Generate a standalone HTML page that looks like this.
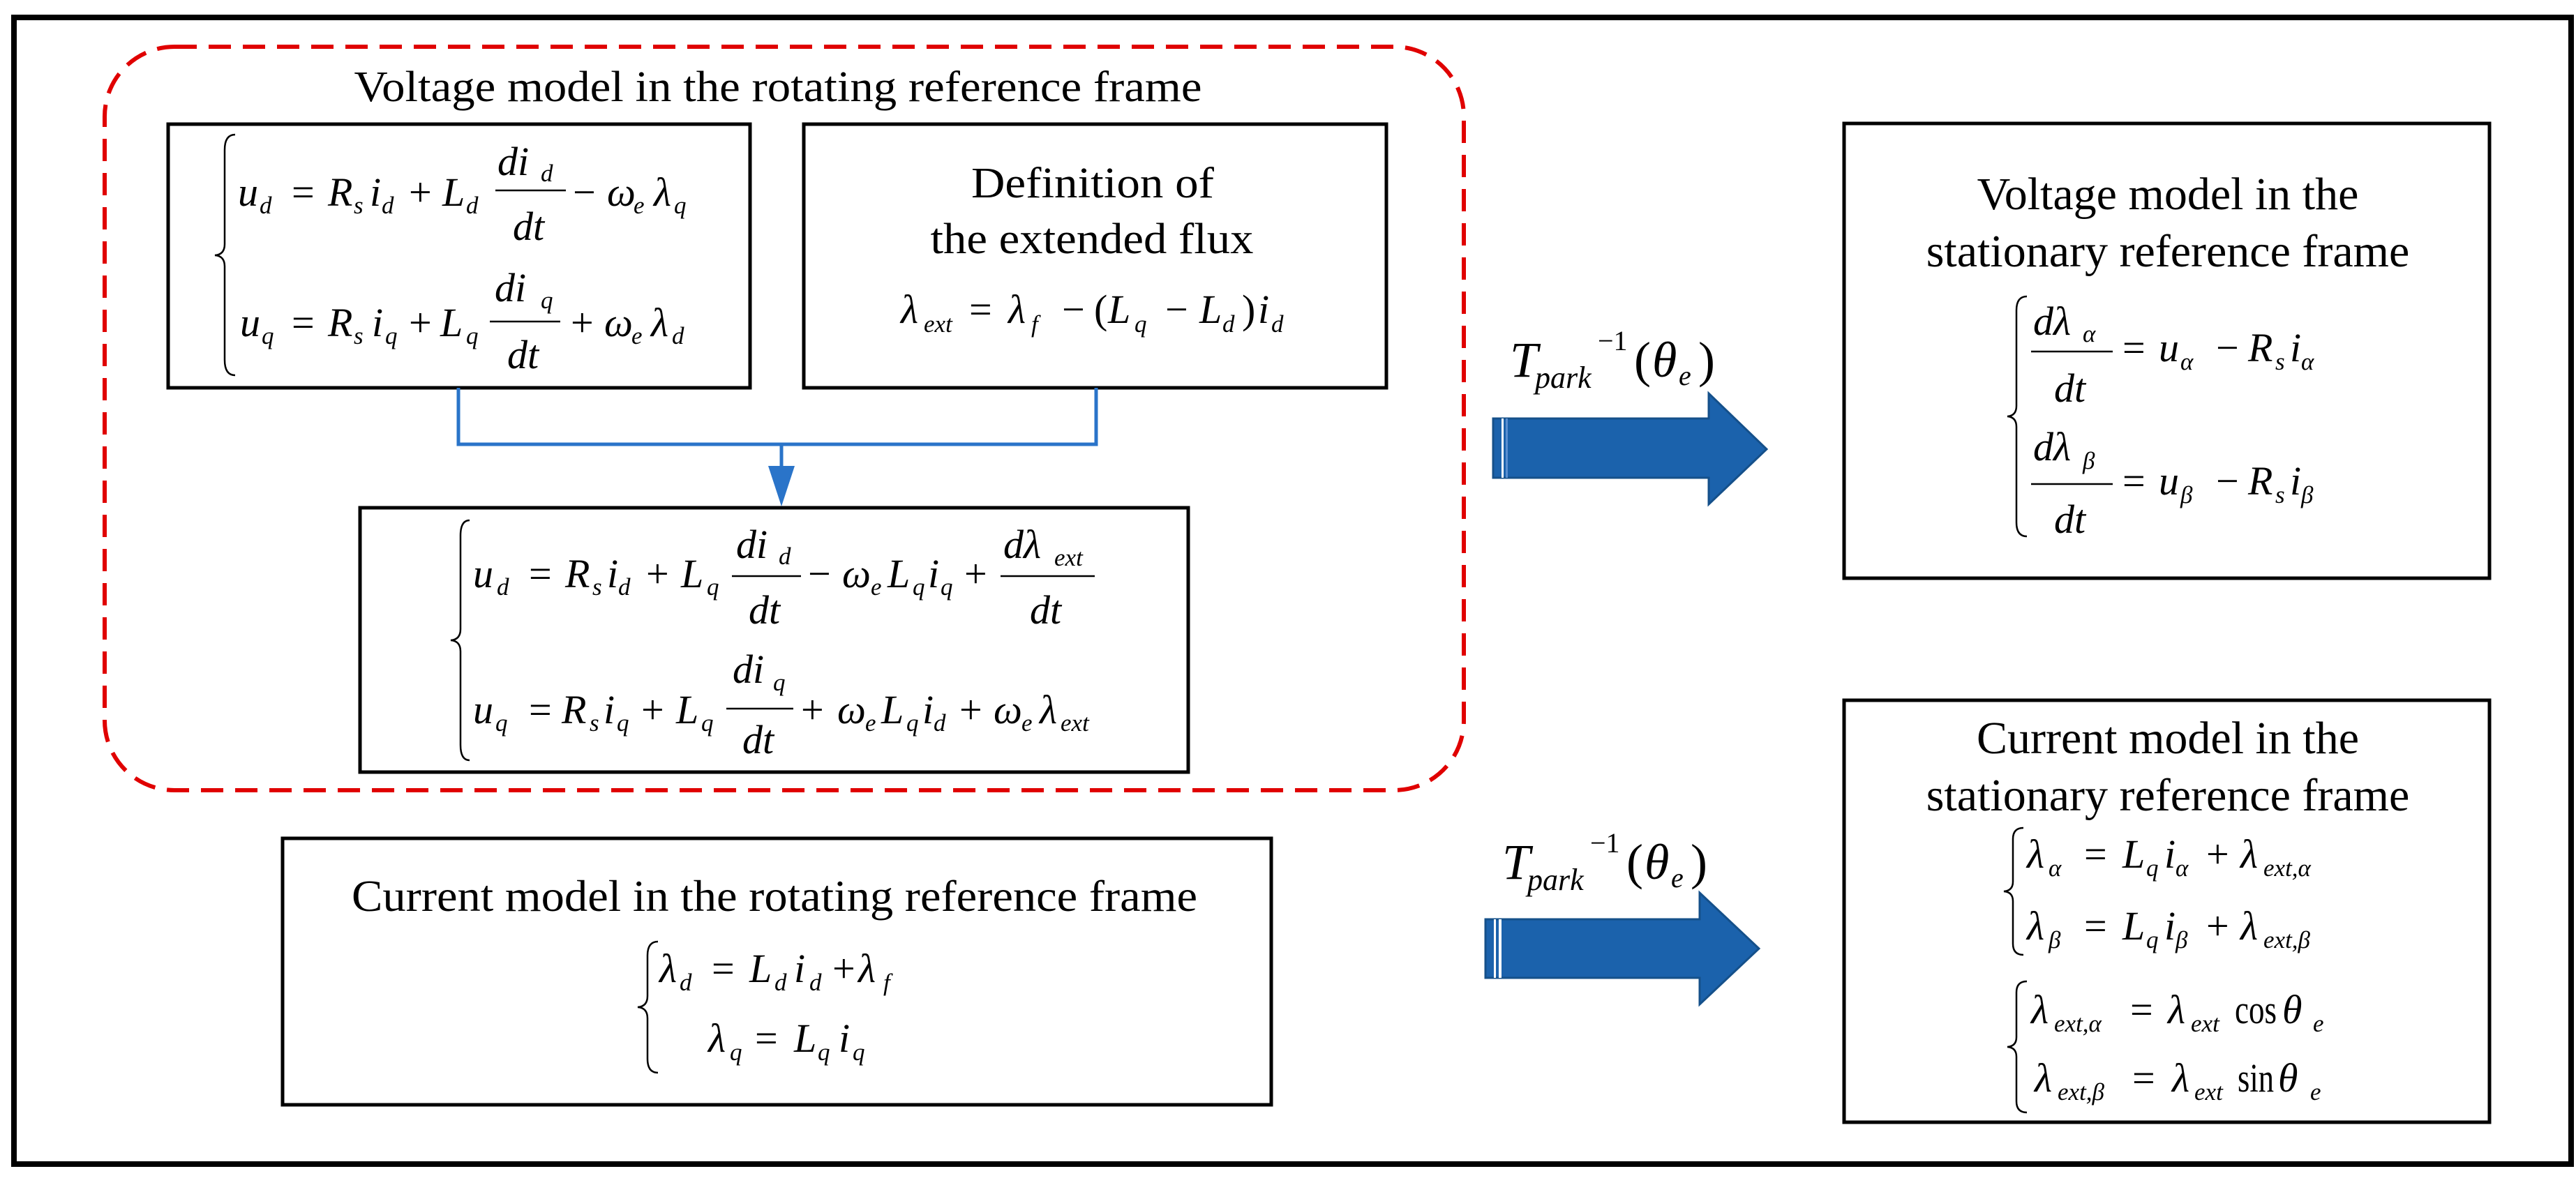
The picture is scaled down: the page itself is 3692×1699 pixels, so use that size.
<!DOCTYPE html>
<html><head><meta charset="utf-8"><style>
html,body{margin:0;padding:0;background:#fff}
svg{display:block}
text{font-family:"Liberation Serif","DejaVu Serif",serif;fill:#000}
.i{font-style:italic;font-family:"Liberation Serif","DejaVu Serif",serif}
.m{font-size:58px}
.s{font-size:35px;font-style:italic}
.t{font-size:62px}
</style></head><body>
<svg width="3692" height="1699" viewBox="0 0 3692 1699" xmlns="http://www.w3.org/2000/svg">
<rect x="20" y="25" width="3665" height="1644" fill="none" stroke="#000" stroke-width="8"/>
<rect x="150" y="67" width="1948" height="1066" rx="100" ry="100" fill="none" stroke="#e00000" stroke-width="6" stroke-dasharray="32 17"/>
<text class="t" x="1115" y="145" text-anchor="middle" textLength="1215" lengthAdjust="spacingAndGlyphs">Voltage model in the rotating reference frame</text>

<g fill="none" stroke="#000" stroke-width="5">
<rect x="241" y="178" width="834" height="378"/>
<rect x="1152" y="178" width="835" height="378"/>
<rect x="516" y="728" width="1187" height="379"/>
<rect x="405" y="1202" width="1417" height="382"/>
<rect x="2643" y="177" width="925" height="652"/>
<rect x="2643" y="1004" width="925" height="605"/>
</g>
<g fill="none" stroke="#000" stroke-width="2.5">
<path d="M337 193 Q322 193 322 215 L322 350 Q322 365 308 366 Q322 367 322 382 L322 516 Q322 538 337 538"/>
<path d="M673 746 Q660 746 660 768 L660 902 Q660 917 646 918 Q660 919 660 934 L660 1068 Q660 1090 673 1090"/>
<path d="M943 1350 Q928 1350 928 1370 L928 1428 Q928 1443 914 1444 Q928 1445 928 1460 L928 1518 Q928 1538 943 1538"/>
<path d="M2905 425 Q2890 425 2890 445 L2890 582 Q2890 596 2877 597 Q2890 598 2890 612 L2890 749 Q2890 769 2905 769"/>
<path d="M2900 1187 Q2885 1187 2885 1203 L2885 1264 Q2885 1277 2872 1278 Q2885 1279 2885 1292 L2885 1353 Q2885 1369 2900 1369"/>
<path d="M2905 1407 Q2890 1407 2890 1423 L2890 1487 Q2890 1500 2877 1501 Q2890 1502 2890 1515 L2890 1579 Q2890 1595 2905 1595"/>
</g>
<g stroke="#000" stroke-width="2.5">
<line x1="710" y1="273" x2="811" y2="273"/>
<line x1="702" y1="461" x2="803" y2="461"/>
<line x1="1049" y1="826" x2="1148" y2="826"/>
<line x1="1434" y1="826" x2="1569" y2="826"/>
<line x1="1041" y1="1016" x2="1137" y2="1016"/>
<line x1="2911" y1="504" x2="3028" y2="504"/>
<line x1="2911" y1="694" x2="3028" y2="694"/>
</g>

<g class="m">
<text class="i" x="341" y="295">u</text><text class="s" x="372" y="306">d</text>
<text x="418" y="295">=</text>
<text class="i" x="470" y="295">R</text><text class="s" x="507" y="306">s</text>
<text class="i" x="530" y="295">i</text><text class="s" x="547" y="306">d</text>
<text x="586" y="295">+</text>
<text class="i" x="634" y="295">L</text><text class="s" x="668" y="306">d</text>
<text class="i" x="713" y="251">di</text><text class="s" x="775" y="260">d</text>
<text class="i" x="735" y="344">dt</text>
<text x="821" y="295">−</text>
<text class="i" x="870" y="295">ω</text><text class="s" x="908" y="306">e</text>
<text class="i" x="937" y="295">λ</text><text class="s" x="966" y="306">q</text>

<text class="i" x="344" y="482">u</text><text class="s" x="375" y="493">q</text>
<text x="418" y="482">=</text>
<text class="i" x="470" y="482">R</text><text class="s" x="507" y="493">s</text>
<text class="i" x="533" y="482">i</text><text class="s" x="552" y="493">q</text>
<text x="586" y="482">+</text>
<text class="i" x="631" y="482">L</text><text class="s" x="668" y="493">q</text>
<text class="i" x="709" y="432">di</text><text class="s" x="775" y="442">q</text>
<text class="i" x="727" y="528">dt</text>
<text x="818" y="482">+</text>
<text class="i" x="866" y="482">ω</text><text class="s" x="905" y="493">e</text>
<text class="i" x="933" y="482">λ</text><text class="s" x="963" y="493">d</text>
</g>

<text class="t" x="1566" y="283" text-anchor="middle" textLength="348" lengthAdjust="spacingAndGlyphs">Definition of</text>
<text class="t" x="1565" y="363" text-anchor="middle" textLength="463" lengthAdjust="spacingAndGlyphs">the extended flux</text>
<g class="m">
<text class="i" x="1291" y="463">λ</text><text class="s" x="1324" y="476">ext</text>
<text x="1389" y="463">=</text>
<text class="i" x="1445" y="463">λ</text><text class="s" x="1478" y="476">f</text>
<text x="1522" y="463">−</text>
<text x="1568" y="463">(</text>
<text class="i" x="1588" y="463">L</text><text class="s" x="1626" y="476">q</text>
<text x="1670" y="463">−</text>
<text class="i" x="1719" y="463">L</text><text class="s" x="1752" y="476">d</text>
<text x="1780" y="463">)</text>
<text class="i" x="1803" y="463">i</text><text class="s" x="1822" y="476">d</text>
</g>

<g stroke="#2a74c9" stroke-width="5" fill="none">
<polyline points="657,556 657,637 1571,637 1571,556"/>
<line x1="1120" y1="637" x2="1120" y2="672"/>
</g>
<polygon points="1101,668 1139,668 1120,726" fill="#2a74c9"/>

<g class="m">
<text class="i" x="678" y="842">u</text><text class="s" x="712" y="853">d</text>
<text x="758" y="842">=</text>
<text class="i" x="810" y="842">R</text><text class="s" x="849" y="853">s</text>
<text class="i" x="870" y="842">i</text><text class="s" x="886" y="853">d</text>
<text x="926" y="842">+</text>
<text class="i" x="976" y="842">L</text><text class="s" x="1013" y="853">q</text>
<text class="i" x="1055" y="800">di</text><text class="s" x="1116" y="809">d</text>
<text class="i" x="1073" y="894">dt</text>
<text x="1158" y="842">−</text>
<text class="i" x="1207" y="842">ω</text><text class="s" x="1248" y="853">e</text>
<text class="i" x="1272" y="842">L</text><text class="s" x="1308" y="853">q</text>
<text class="i" x="1330" y="842">i</text><text class="s" x="1348" y="853">q</text>
<text x="1382" y="842">+</text>
<text class="i" x="1438" y="800">dλ</text><text class="s" x="1511" y="811">ext</text>
<text class="i" x="1476" y="894">dt</text>

<text class="i" x="678" y="1037">u</text><text class="s" x="710" y="1048">q</text>
<text x="758" y="1037">=</text>
<text class="i" x="805" y="1037">R</text><text class="s" x="845" y="1048">s</text>
<text class="i" x="865" y="1037">i</text><text class="s" x="884" y="1048">q</text>
<text x="919" y="1037">+</text>
<text class="i" x="969" y="1037">L</text><text class="s" x="1005" y="1048">q</text>
<text class="i" x="1050" y="979">di</text><text class="s" x="1108" y="990">q</text>
<text class="i" x="1064" y="1080">dt</text>
<text x="1148" y="1037">+</text>
<text class="i" x="1200" y="1037">ω</text><text class="s" x="1240" y="1048">e</text>
<text class="i" x="1263" y="1037">L</text><text class="s" x="1299" y="1048">q</text>
<text class="i" x="1322" y="1037">i</text><text class="s" x="1338" y="1048">d</text>
<text x="1375" y="1037">+</text>
<text class="i" x="1424" y="1037">ω</text><text class="s" x="1464" y="1048">e</text>
<text class="i" x="1490" y="1037">λ</text><text class="s" x="1520" y="1048">ext</text>
</g>

<text x="1110" y="1306" text-anchor="middle" style="font-size:64px" textLength="1212" lengthAdjust="spacingAndGlyphs">Current model in the rotating reference frame</text>
<g class="m">
<text class="i" x="945" y="1408">λ</text><text class="s" x="974" y="1420">d</text>
<text x="1020" y="1408">=</text>
<text class="i" x="1074" y="1408">L</text><text class="s" x="1110" y="1420">d</text>
<text class="i" x="1138" y="1408">i</text><text class="s" x="1160" y="1420">d</text>
<text x="1193" y="1408">+</text>
<text class="i" x="1230" y="1408">λ</text><text class="s" x="1266" y="1420">f</text>

<text class="i" x="1015" y="1508">λ</text><text class="s" x="1046" y="1520">q</text>
<text x="1082" y="1508">=</text>
<text class="i" x="1138" y="1508">L</text><text class="s" x="1172" y="1520">q</text>
<text class="i" x="1202" y="1508">i</text><text class="s" x="1222" y="1520">q</text>
</g>

<g>
<polygon points="2140,600 2449,600 2449,564 2532,644 2449,723 2449,685 2140,685" fill="#1b62ac" stroke="#15508a" stroke-width="3"/>
<rect x="2152" y="600" width="3" height="85" fill="#fff"/>
<rect x="2158" y="600" width="3" height="85" fill="#5a8fd0"/>
<polygon points="2129,1318 2436,1318 2436,1280 2521,1360 2436,1440 2436,1402 2129,1402" fill="#1b62ac" stroke="#15508a" stroke-width="3"/>
<rect x="2141" y="1318" width="3" height="84" fill="#fff"/>
<rect x="2148" y="1318" width="4" height="84" fill="#fff"/>
</g>
<g style="font-size:72px">
<text class="i" x="2164" y="540">T</text><text class="i" x="2200" y="556" style="font-size:44px">park</text>
<text x="2290" y="502" style="font-size:40px">−1</text>
<text x="2342" y="540">(</text><text class="i" x="2368" y="540">θ</text><text class="i" x="2406" y="552" style="font-size:40px">e</text><text x="2434" y="540">)</text>
<text class="i" x="2153" y="1260">T</text><text class="i" x="2189" y="1276" style="font-size:44px">park</text>
<text x="2279" y="1222" style="font-size:40px">−1</text>
<text x="2331" y="1260">(</text><text class="i" x="2357" y="1260">θ</text><text class="i" x="2395" y="1272" style="font-size:40px">e</text><text x="2423" y="1260">)</text>
</g>

<text x="3107" y="300" text-anchor="middle" style="font-size:66px">Voltage model in the</text>
<text x="3107" y="382" text-anchor="middle" style="font-size:66px">stationary reference frame</text>
<g class="m">
<text class="i" x="2914" y="480">dλ</text><text class="s" x="2985" y="490">α</text>
<text class="i" x="2944" y="576">dt</text>
<text x="3042" y="518">=</text>
<text class="i" x="3094" y="518">u</text><text class="s" x="3125" y="530">α</text>
<text x="3176" y="518">−</text>
<text class="i" x="3222" y="518">R</text><text class="s" x="3261" y="530">s</text>
<text class="i" x="3282" y="518">i</text><text class="s" x="3298" y="530">α</text>

<text class="i" x="2914" y="660">dλ</text><text class="s" x="2985" y="672">β</text>
<text class="i" x="2944" y="764">dt</text>
<text x="3042" y="709">=</text>
<text class="i" x="3094" y="709">u</text><text class="s" x="3125" y="721">β</text>
<text x="3176" y="709">−</text>
<text class="i" x="3222" y="709">R</text><text class="s" x="3261" y="721">s</text>
<text class="i" x="3282" y="709">i</text><text class="s" x="3298" y="721">β</text>
</g>

<text x="3107" y="1080" text-anchor="middle" style="font-size:66px">Current model in the</text>
<text x="3107" y="1162" text-anchor="middle" style="font-size:66px">stationary reference frame</text>
<g class="m">
<text class="i" x="2905" y="1244">λ</text><text class="s" x="2936" y="1256">α</text>
<text x="2987" y="1244">=</text>
<text class="i" x="3042" y="1244">L</text><text class="s" x="3076" y="1256">q</text>
<text class="i" x="3102" y="1244">i</text><text class="s" x="3118" y="1256">α</text>
<text x="3162" y="1244">+</text>
<text class="i" x="3211" y="1244">λ</text><text class="s" x="3244" y="1256">ext,α</text>

<text class="i" x="2905" y="1347">λ</text><text class="s" x="2936" y="1359">β</text>
<text x="2987" y="1347">=</text>
<text class="i" x="3042" y="1347">L</text><text class="s" x="3076" y="1359">q</text>
<text class="i" x="3102" y="1347">i</text><text class="s" x="3118" y="1359">β</text>
<text x="3162" y="1347">+</text>
<text class="i" x="3211" y="1347">λ</text><text class="s" x="3244" y="1359">ext,β</text>

<text class="i" x="2911" y="1467">λ</text><text class="s" x="2944" y="1479">ext,α</text>
<text x="3053" y="1467">=</text>
<text class="i" x="3107" y="1467">λ</text><text class="s" x="3140" y="1479">ext</text>
<text x="3203" y="1467" textLength="60" lengthAdjust="spacingAndGlyphs">cos</text>
<text class="i" x="3271" y="1467">θ</text><text class="s" x="3315" y="1479">e</text>

<text class="i" x="2916" y="1565">λ</text><text class="s" x="2949" y="1577">ext,β</text>
<text x="3056" y="1565">=</text>
<text class="i" x="3113" y="1565">λ</text><text class="s" x="3145" y="1577">ext</text>
<text x="3207" y="1565" textLength="52" lengthAdjust="spacingAndGlyphs">sin</text>
<text class="i" x="3265" y="1565">θ</text><text class="s" x="3311" y="1577">e</text>
</g>
</svg>
</body></html>
